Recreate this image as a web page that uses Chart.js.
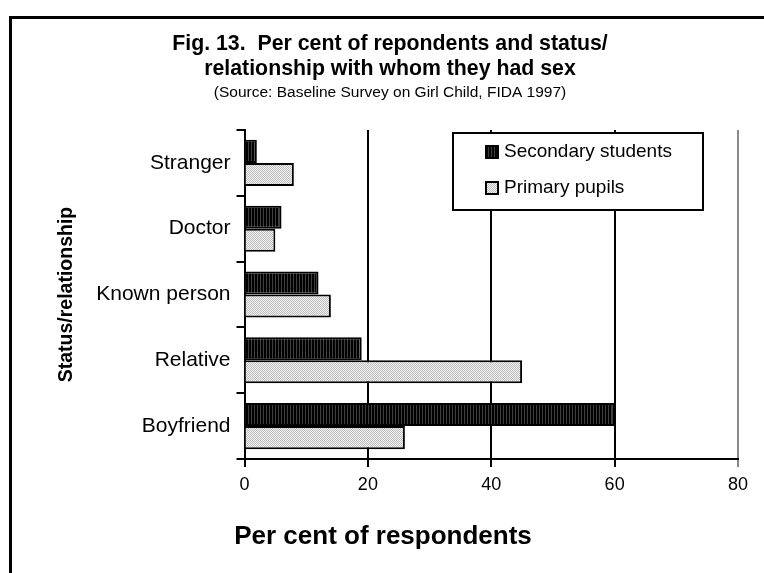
<!DOCTYPE html>
<html>
<head>
<meta charset="utf-8">
<script src="https://cdn.jsdelivr.net/npm/chart.js@4.4.0/dist/chart.umd.min.js"></script>
<style>
  html, body { margin: 0; padding: 0; background: #fff; }
  #wrap { position: relative; width: 764px; height: 573px; overflow: hidden; }
  #wrap canvas { position: absolute; left: 0; top: 0; }
  #frame { position: absolute; left: 9px; top: 16px; width: 900px; height: 700px;
           border-left: 3px solid #000; border-top: 3px solid #000; pointer-events: none; }
</style>
</head>
<body>
<div id="wrap">
  <canvas id="c" width="764" height="573"></canvas>
  <div id="frame"></div>
</div>
<script>
// Relationship categories, top to bottom
const categories = ['Stranger', 'Doctor', 'Known person', 'Relative', 'Boyfriend'];
// Per cent of respondents in each group
const secondaryStudents = [2, 6, 12, 19, 60];
const primaryPupils = [8, 5, 14, 45, 26];
const seriesNames = ['Secondary students', 'Primary pupils'];
const xTicks = [0, 20, 40, 60, 80];

const titleLines = ['Fig. 13.  Per cent of repondents and status/', 'relationship with whom they had sex'];
const sourceLine = '(Source: Baseline Survey on Girl Child, FIDA 1997)';
const xTitle = 'Per cent of respondents';
const yTitle = 'Status/relationship';

const FONT = "'Liberation Sans', Arial, Helvetica, sans-serif";

const canvas = document.getElementById('c');
const ctx = canvas.getContext('2d');

// Fill patterns: dark vertical hatching and a light dotted grey
function makePattern(w, h, paint) {
  const t = document.createElement('canvas');
  t.width = w; t.height = h;
  const g = t.getContext('2d');
  paint(g);
  return ctx.createPattern(t, 'repeat');
}
const darkFill = makePattern(3, 2, g => {
  g.fillStyle = '#000'; g.fillRect(0, 0, 3, 2);
  g.fillStyle = '#404040'; g.fillRect(2, 0, 1, 2);
});
const lightFill = makePattern(2, 2, g => {
  g.fillStyle = '#f2f2f2'; g.fillRect(0, 0, 2, 2);
  g.fillStyle = '#bdbdbd'; g.fillRect(0, 0, 1, 1); g.fillRect(1, 1, 1, 1);
});

// Legend box inside the plot area
const boxLegend = {
  id: 'boxLegend',
  afterDraw(chart) {
    const c = chart.ctx;
    const x0 = 453, y0 = 133, w = 250, h = 77;
    c.save();
    c.fillStyle = '#fff';
    c.fillRect(x0, y0, w, h);
    c.lineWidth = 2;
    c.strokeStyle = '#000';
    c.strokeRect(x0, y0, w, h);
    c.font = '19px ' + FONT;
    c.textBaseline = 'middle';
    chart.data.datasets.forEach((ds, i) => {
      const cy = y0 + 19 + i * 36;
      c.fillStyle = ds.backgroundColor;
      c.fillRect(486, cy - 6, 12, 12);
      c.strokeRect(486, cy - 6, 12, 12);
      c.fillStyle = '#000';
      c.fillText(ds.label, 504, cy);
    });
    c.restore();
  }
};

// Horizontal axis title, centred on the whole chart
const bottomTitle = {
  id: 'bottomTitle',
  afterDraw(chart) {
    const c = chart.ctx;
    c.save();
    c.font = 'bold 26px ' + FONT;
    c.fillStyle = '#000';
    c.textAlign = 'center';
    c.textBaseline = 'middle';
    c.fillText(xTitle, 383, 537);
    c.restore();
  }
};

new Chart(canvas, {
  type: 'bar',
  data: {
    labels: categories,
    datasets: [
      { label: seriesNames[0], data: secondaryStudents, backgroundColor: darkFill,
        borderColor: '#000', borderWidth: 2 },
      { label: seriesNames[1], data: primaryPupils, backgroundColor: lightFill,
        borderColor: '#000', borderWidth: 2 }
    ]
  },
  options: {
    indexAxis: 'y',
    responsive: false,
    animation: false,
    devicePixelRatio: 1,
    categoryPercentage: 0.7,
    barPercentage: 1.0,
    layout: { padding: { left: 42, right: 26, top: 6, bottom: 74 } },
    plugins: {
      legend: { display: false },
      tooltip: { enabled: false },
      title: {
        display: true,
        text: titleLines,
        color: '#000',
        font: { family: FONT, size: 21.3, weight: 'bold', lineHeight: '25px' },
        padding: { top: 25.5, bottom: 0 }
      },
      subtitle: {
        display: true,
        text: sourceLine,
        color: '#000',
        font: { family: FONT, size: 15.5, lineHeight: '20px' },
        padding: { top: 1.5, bottom: 27 }
      }
    },
    scales: {
      x: {
        min: 0, max: 80,
        afterBuildTicks: s => { s.ticks = xTicks.map(v => ({ value: v })); },
        afterFit: s => { s.height = 40; },
        grid: {
          color: c => (c.tick && c.tick.value === 80) ? '#8a8a8a' : '#000',
          lineWidth: 2, tickLength: 8
        },
        border: { display: true, color: '#000', width: 2 },
        ticks: { color: '#000', font: { family: FONT, size: 18 }, padding: 7, maxRotation: 0 }
      },
      y: {
        afterFit: s => { s.width = 244.5 - 42; },
        grid: { offset: true, drawOnChartArea: false, color: '#000', lineWidth: 2, tickLength: 8 },
        border: { display: true, color: '#000', width: 2 },
        ticks: { color: '#000', font: { family: FONT, size: 21 }, padding: 6 },
        title: { display: true, text: yTitle, color: '#000',
                 font: { family: FONT, size: 19.5, weight: 'bold' },
                 padding: { top: 13.3, bottom: 0 } }
      }
    }
  },
  plugins: [boxLegend, bottomTitle]
});
</script>
</body>
</html>
